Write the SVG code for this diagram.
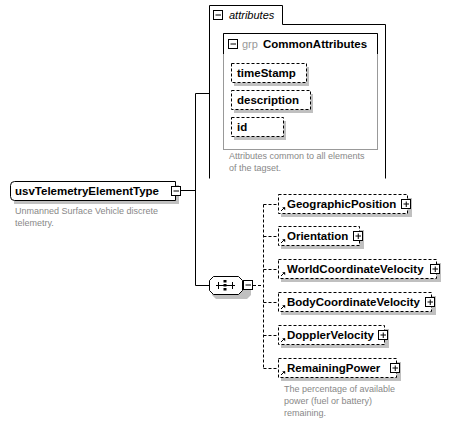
<svg xmlns="http://www.w3.org/2000/svg" width="450" height="423" viewBox="0 0 450 423">
<style>
.bg{fill:#fff}
.sh{fill:#c0c0c0}
.box{fill:#fff;stroke:#000;stroke-width:1}
.dbox{fill:#fff;stroke:#000;stroke-width:1;stroke-dasharray:3,2}
.ln{fill:none;stroke:#000;stroke-width:1}
.dln{fill:none;stroke:#000;stroke-width:1;stroke-dasharray:3,2}
.lbl{font-family:"Liberation Sans",Arial,sans-serif;font-weight:bold;font-size:11.5px;fill:#000}
.desc{font-family:"Liberation Sans",Arial,sans-serif;font-size:9px;fill:#888}
.ital{font-family:"Liberation Sans",Arial,sans-serif;font-style:italic;font-size:11px;fill:#000}
.grp{font-family:"Liberation Sans",Arial,sans-serif;font-size:11px;fill:#999}
.btn{fill:#fff;stroke:#000;stroke-width:1}
</style>
<defs>
<g id="minus"><rect class="btn" x="0.5" y="0.5" width="9" height="9"/><path class="ln" d="M2.5 5H8"/></g>
<g id="plus"><rect class="btn" x="0.5" y="0.5" width="9" height="9"/><path class="ln" d="M2.5 5H8M5.25 2.5V8"/></g>
<g id="ref"><path class="ln" d="M0 4L3.5 0.5"/><path d="M1 0.3L4 0.3L4 3.3Z" fill="#000" transform="translate(0.2,0)"/></g>
</defs>
<rect class="bg" width="450" height="423"/>

<g id="connectors">
<path class="ln" d="M181 190.5H195.5M195.5 93.5V285.5M195.5 93.5H209M195.5 285.5H209"/>
<path class="dln" d="M253 285.5H263.5M263.5 204.5V368.5M263.5 204.5H278M263.5 236.5H278M263.5 269.5H278M263.5 302.5H278M263.5 335.5H278M263.5 368.5H278"/>
</g>

<g id="usvTelemetryElementType">
<path class="sh" d="M14 185H179V204H14Z"/>
<path class="box" d="M14.5 181.5H175.5V200.5H14.5Q10.5 200.5 10.5 196.5V185.5Q10.5 181.5 14.5 181.5Z"/>
<text class="lbl" x="15" y="195">usvTelemetryElementType</text>
<use href="#minus" x="171" y="186"/>
<text class="desc" x="15" y="214">Unmanned Surface Vehicle discrete</text>
<text class="desc" x="15" y="226">telemetry.</text>
</g>

<g id="attributes">
<path class="box" d="M209.5 178.5V5.5H282.5V24.5H385.5V178.5"/>
<use href="#minus" x="213" y="10"/>
<text class="ital" x="229" y="19">attributes</text>
</g>

<g id="CommonAttributes">
<rect x="223.5" y="33.5" width="154" height="116" fill="#fff" stroke="#999"/>
<path class="ln" d="M223.5 54V33.5H377.5V54"/>
<use href="#minus" x="228" y="39"/>
<text class="grp" x="242" y="48">grp</text>
<text class="lbl" x="263" y="48">CommonAttributes</text>
<text class="desc" x="229" y="159">Attributes common to all elements</text>
<text class="desc" x="229" y="171">of the tagset.</text>
</g>

<g id="timeStamp">
<rect class="sh" x="234" y="67" width="75" height="19"/>
<rect class="dbox" x="231.5" y="63.5" width="75" height="19"/>
<text class="lbl" x="237" y="77">timeStamp</text>
</g>
<g id="description">
<rect class="sh" x="234" y="94" width="79" height="19"/>
<rect class="dbox" x="231.5" y="90.5" width="79" height="19"/>
<text class="lbl" x="237" y="104">description</text>
</g>
<g id="id">
<rect class="sh" x="234" y="121" width="52" height="19"/>
<rect class="dbox" x="231.5" y="117.5" width="52" height="19"/>
<text class="lbl" x="237" y="131">id</text>
</g>

<g id="sequence">
<path class="sh" d="M216 280H247L251 284V295L247 299H216L212 295V284Z"/>
<path class="box" d="M213.5 276.5H238.5L242.5 280.5V290.5L238.5 294.5H213.5L209.5 290.5V280.5Z"/>
<path class="ln" d="M216 285.5H235M218.5 282V289M232.5 282V289"/>
<rect x="223.5" y="280" width="3" height="2.5" fill="#000"/>
<rect x="223.5" y="284" width="3" height="2.5" fill="#000"/>
<rect x="223.5" y="288" width="3" height="2.5" fill="#000"/>
<use href="#minus" x="243" y="280"/>
</g>

<g id="GeographicPosition">
<rect class="sh" x="281" y="198" width="131" height="19"/>
<rect class="dbox" x="278.5" y="194.5" width="129" height="19"/>
<use href="#ref" x="281" y="207"/>
<text class="lbl" x="287" y="208">GeographicPosition</text>
<use href="#plus" x="401" y="199"/>
</g>
<g id="Orientation">
<rect class="sh" x="281" y="230" width="83" height="19"/>
<rect class="dbox" x="278.5" y="226.5" width="81" height="19"/>
<use href="#ref" x="281" y="239"/>
<text class="lbl" x="287" y="240">Orientation</text>
<use href="#plus" x="353" y="231"/>
</g>
<g id="WorldCoordinateVelocity">
<rect class="sh" x="281" y="263" width="160" height="19"/>
<rect class="dbox" x="278.5" y="259.5" width="158" height="19"/>
<use href="#ref" x="281" y="272"/>
<text class="lbl" x="287" y="273">WorldCoordinateVelocity</text>
<use href="#plus" x="430" y="264"/>
</g>
<g id="BodyCoordinateVelocity">
<rect class="sh" x="281" y="296" width="155" height="19"/>
<rect class="dbox" x="278.5" y="292.5" width="153" height="19"/>
<use href="#ref" x="281" y="305"/>
<text class="lbl" x="287" y="306">BodyCoordinateVelocity</text>
<use href="#plus" x="425" y="297"/>
</g>
<g id="DopplerVelocity">
<rect class="sh" x="281" y="329" width="108" height="19"/>
<rect class="dbox" x="278.5" y="325.5" width="106" height="19"/>
<use href="#ref" x="281" y="338"/>
<text class="lbl" x="287" y="339">DopplerVelocity</text>
<use href="#plus" x="378" y="330"/>
</g>
<g id="RemainingPower">
<rect class="sh" x="281" y="362" width="120" height="19"/>
<rect class="dbox" x="278.5" y="358.5" width="118" height="19"/>
<use href="#ref" x="281" y="371"/>
<text class="lbl" x="287" y="372">RemainingPower</text>
<use href="#plus" x="390" y="363"/>
<text class="desc" x="284" y="392">The percentage of available</text>
<text class="desc" x="284" y="404">power (fuel or battery)</text>
<text class="desc" x="284" y="416">remaining.</text>
</g>
</svg>
